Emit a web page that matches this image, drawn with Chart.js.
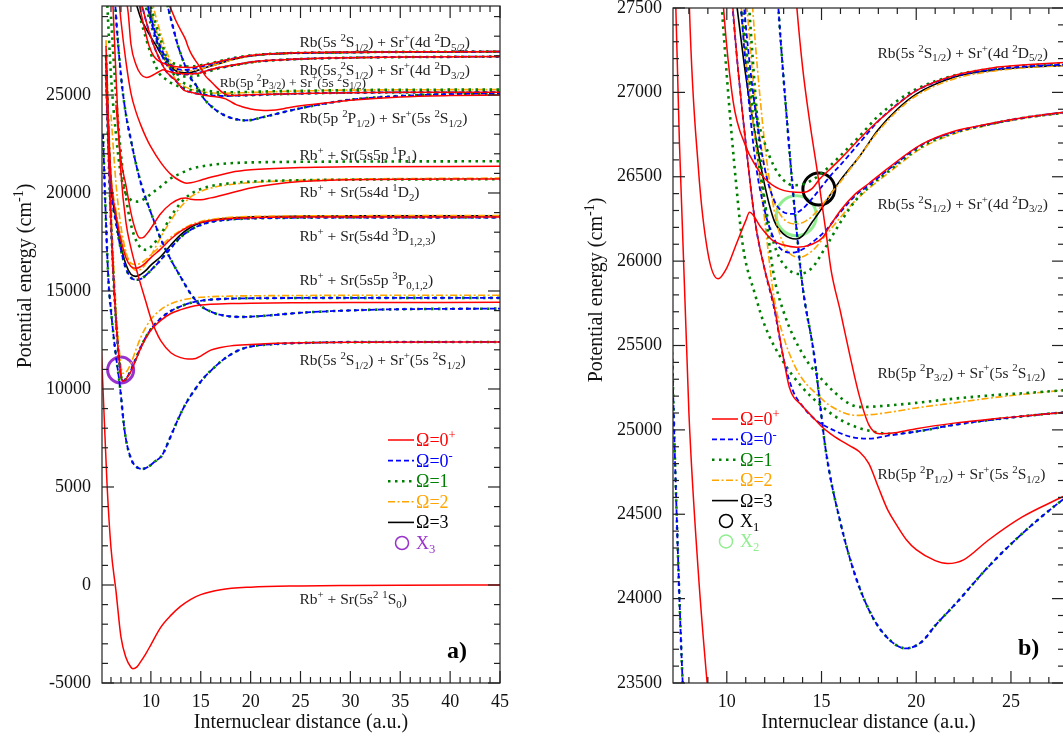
<!DOCTYPE html>
<html>
<head>
<meta charset="utf-8">
<script src="https://cdn.jsdelivr.net/npm/chart.js@4.4.0/dist/chart.umd.min.js"></script>
<style>
  html, body { margin: 0; padding: 0; background: #fff; overflow: hidden; width: 1063px; height: 741px; }
  #panelA { position: absolute; left: 0; top: 0; }
  #panelB { position: absolute; left: 570px; top: 0; }
</style>
</head>
<body>
<canvas id="panelA" width="530" height="741"></canvas>
<canvas id="panelB" width="505" height="741"></canvas>
<script>
// potential curves, r in a.u., V in cm-1
const r_gnd = [5.0, 5.3, 5.6, 6.0, 6.5, 7.0, 7.5, 8.0, 8.2, 8.6, 9.0, 9.5, 10, 11, 12, 13, 14, 15, 17, 20, 25, 30, 35, 45];
const v_gnd = [12500, 8800, 5200, 1900, -300, -2650, -3700, -4200, -4270, -4180, -3900, -3500, -3050, -2150, -1550, -1080, -730, -490, -240, -110, -45, -20, -8, 0];

const r_sDeep = [5.2, 5.5, 5.75, 6.0, 6.25, 6.5, 6.9, 7.4, 8.0, 8.5, 9.1, 9.7, 10.4, 11.1, 12, 12.7, 13.5, 14.4, 15.2, 16.1, 17.7, 19.4, 22.7, 26, 30, 45];
const v_sDeep = [23000, 18500, 15500, 14000, 12750, 11700, 10130, 7750, 6450, 6050, 5920, 6020, 6300, 6600, 7600, 8430, 9250, 9960, 10500, 10980, 11660, 12090, 12300, 12360, 12390, 12400];

const r_sRed = [6.0, 6.5, 7.0, 7.5, 8.0, 8.5, 9.0, 9.5, 10, 10.5, 11, 12, 13, 13.7, 14.5, 15, 16, 17, 18, 20, 22, 25, 30, 45];
const v_sRed = [32000, 26000, 21000, 18500, 17200, 16200, 15300, 14450, 13600, 12950, 12450, 11850, 11600, 11530, 11560, 11680, 11980, 12120, 12200, 12270, 12320, 12360, 12390, 12400];

const r_t1 = [6.0, 6.4, 7.0, 7.5, 8.0, 8.5, 9.0, 9.5, 10, 11, 12, 13, 14, 15, 16, 17, 18, 19, 20, 22, 24, 26, 30, 35, 45];
const v_t1 = [34000, 29850, 26000, 24000, 22700, 21500, 20500, 19700, 19000, 17650, 16600, 15700, 14850, 14250, 13950, 13780, 13700, 13680, 13690, 13760, 13850, 13920, 14010, 14070, 14100];

const r_t2 = [5.5, 6.0, 6.5, 7.0, 7.2, 7.5, 8.0, 8.5, 9.0, 9.5, 10, 11, 12, 13, 14, 15, 16, 18, 20, 25, 30, 45];
const v_t2Red = [26000, 18500, 13500, 10700, 10400, 10500, 10900, 11500, 12100, 12600, 13000, 13500, 13850, 14050, 14200, 14280, 14320, 14360, 14380, 14400, 14410, 14420];
const v_t2Blue = [26000, 18500, 13500, 10700, 10420, 10520, 10950, 11550, 12150, 12650, 13050, 13600, 13980, 14220, 14400, 14500, 14560, 14610, 14630, 14645, 14650, 14650];
const v_t2Orange = [27000, 19500, 14200, 11200, 10800, 10850, 11300, 12000, 12650, 13150, 13550, 14050, 14350, 14520, 14620, 14680, 14710, 14740, 14755, 14770, 14780, 14785];

const r_d3 = [5.5, 5.75, 6.0, 6.5, 7.0, 7.5, 8.0, 8.5, 9.0, 9.5, 10, 11, 12, 13, 14, 15, 16, 18, 20, 25, 30, 45];
const v_d3Black = [27000, 23200, 20500, 18700, 17300, 16350, 15850, 15745, 15850, 16050, 16320, 16760, 17350, 17880, 18250, 18480, 18600, 18730, 18780, 18820, 18830, 18840];
const v_d3Blue = [27000, 23000, 20300, 18500, 17100, 16150, 15680, 15575, 15620, 15800, 16050, 16600, 17200, 17750, 18120, 18370, 18520, 18650, 18700, 18740, 18750, 18750];
const v_d3Red = [27500, 23500, 20800, 18900, 17600, 16700, 16250, 16160, 16250, 16450, 16700, 17150, 17650, 18050, 18330, 18500, 18600, 18700, 18740, 18770, 18775, 18780];
const v_d3Orange = [27800, 23800, 21000, 19100, 17800, 16900, 16420, 16350, 16420, 16600, 16850, 17300, 17750, 18100, 18380, 18550, 18650, 18760, 18800, 18830, 18840, 18850];

const r_d1Red = [6.5, 7.0, 7.5, 8.0, 8.5, 8.9, 9.3, 9.8, 11, 12, 13, 13.5, 14, 15, 16, 18, 20, 22, 25, 30, 45];
const v_d1Red = [24500, 21700, 20400, 19000, 18050, 17700, 17750, 18050, 18950, 19450, 19720, 19750, 19680, 19650, 19750, 20000, 20250, 20420, 20580, 20680, 20720];
const r_d1 = [6.0, 6.5, 7.0, 7.5, 8.0, 8.5, 9.0, 9.5, 10, 11, 12, 13, 14, 15, 16, 18, 20, 25, 30, 45];
const v_d1Orange = [24000, 20500, 18300, 17000, 16300, 16050, 16100, 16400, 16800, 17750, 18600, 19300, 19800, 20080, 20250, 20430, 20530, 20650, 20710, 20760];
const v_d1Green = [29000, 25000, 22000, 19800, 18400, 17600, 17200, 17100, 17250, 17900, 18800, 19500, 19950, 20200, 20350, 20500, 20580, 20650, 20680, 20700];

const r_p1Red = [6.5, 7.0, 7.5, 8.0, 8.5, 9.0, 9.5, 10, 11, 12, 13, 13.6, 14, 15, 16, 18, 20, 25, 30, 45];
const v_p1Red = [31500, 28800, 26700, 25100, 24150, 23450, 22850, 22350, 21550, 20950, 20600, 20500, 20520, 20650, 20800, 21050, 21180, 21300, 21340, 21360];
const r_p1Green = [5.5, 6.0, 6.5, 7.0, 7.5, 8.0, 8.7, 9.5, 10, 11, 12, 13, 14, 15, 16, 18, 20, 25, 45];
const v_p1Green = [31000, 26000, 23000, 20900, 19950, 19650, 19560, 19750, 19950, 20330, 20750, 21000, 21230, 21350, 21430, 21520, 21560, 21590, 21620];

const r_pDeep = [11.0, 11.5, 12, 12.7, 13.2, 13.67, 14.0, 14.6, 15.25, 16, 16.8, 17.7, 18.6, 19.46, 20.3, 21, 22.1, 23.8, 25.6, 27.7, 30, 35, 40, 45];
const v_pDeep = [31000, 29900, 28900, 27540, 26800, 26200, 25850, 25450, 24860, 24450, 24130, 23890, 23755, 23705, 23745, 23840, 23972, 24188, 24386, 24583, 24760, 24950, 25040, 25080];

const r_pSteep = [11.5, 12, 12.5, 13, 13.5, 13.67, 14.0, 14.37, 14.8, 15.25, 15.5, 16, 16.5, 17, 17.5, 18.05, 19, 20, 22, 24, 26, 28, 32, 38, 45];
const v_pSteep = [29900, 29400, 28800, 28300, 27800, 27540, 27150, 26831, 26516, 26160, 25950, 25700, 25440, 25200, 25030, 24977, 24985, 25007, 25040, 25065, 25085, 25105, 25125, 25135, 25140];

const r_pQ = [9.0, 9.5, 10, 10.5, 11, 11.5, 12, 12.44, 13, 13.3, 14, 14.5, 15, 15.5, 16, 16.5, 17, 17.5, 18, 18.5, 19, 19.5, 20, 21, 21.65, 22.5, 23.8, 25.6, 27.7, 30, 35, 40, 45];
const v_pQ = [29800, 28800, 27950, 27250, 26700, 26230, 25950, 25766, 25420, 25253, 25140, 25080, 25020, 24975, 24938, 24905, 24870, 24800, 24660, 24524, 24430, 24346, 24290, 24225, 24208, 24230, 24346, 24484, 24602, 24730, 24900, 24970, 25000];

const r_pBlue = [9.0, 9.5, 10, 10.5, 11, 11.5, 12, 12.5, 13, 13.5, 14, 14.72, 15.6, 16.5, 17.5, 18.6, 20, 22, 24, 26, 28, 32, 38, 45];
const v_pBlue = [29800, 28800, 27950, 27250, 26700, 26230, 25950, 25720, 25420, 25230, 25140, 25056, 25000, 24960, 24948, 24967, 24990, 25030, 25060, 25085, 25105, 25125, 25135, 25140];

const r_pGreen = [9.0, 9.5, 10.0, 10.5, 10.86, 11.5, 12, 13, 14, 15.07, 16, 16.83, 17.7, 18.58, 20, 22, 24, 26, 28, 32, 38, 45];
const v_pGreen = [28800, 27900, 27100, 26450, 26082, 25800, 25620, 25400, 25250, 25135, 25060, 25017, 24990, 24977, 24990, 25030, 25060, 25085, 25105, 25125, 25135, 25140];

const r_zw = [7.0, 7.5, 7.73, 8.0, 8.5, 9.0, 9.54, 10.0, 10.5, 11.0, 11.2, 11.8, 12.44, 13.0, 13.7, 14.5, 15.07, 15.4, 16, 16.8, 17.5, 18.5, 20.3, 22, 23.8, 25.6, 27.7, 30, 35, 45];
const v_zw = [32000, 30000, 29170, 27600, 26550, 26050, 25895, 25960, 26100, 26240, 26289, 26200, 26121, 26095, 26082, 26100, 26141, 26200, 26300, 26400, 26460, 26550, 26693, 26770, 26812, 26850, 26881, 26905, 26935, 26960];

const r_d52Red = [8.5, 9.0, 9.5, 9.8, 10.33, 11.0, 11.5, 12.0, 12.8, 14.0, 14.5, 14.9, 15.4, 15.95, 16.8, 17.5, 18.5, 20, 22, 24, 26, 28, 35, 45];
const v_d52Red = [30500, 29200, 28100, 27540, 26950, 26680, 26570, 26490, 26427, 26407, 26430, 26486, 26540, 26600, 26700, 26780, 26880, 27010, 27100, 27145, 27165, 27178, 27200, 27215];

const r_d52Black = [8.5, 9.0, 9.5, 10, 10.5, 11, 11.5, 12, 12.5, 13, 13.67, 14, 14.5, 15, 15.5, 16, 17, 18, 19, 20, 22, 24, 26, 28, 30, 35, 40, 45];
const v_d52Black = [29700, 28900, 28400, 27950, 27540, 27100, 26750, 26450, 26240, 26160, 26131, 26150, 26230, 26310, 26400, 26480, 26620, 26780, 26900, 26990, 27090, 27130, 27150, 27160, 27170, 27190, 27200, 27210];

const r_d52Orange = [9.5, 10, 10.5, 11, 11.5, 12, 12.5, 13, 13.67, 14.2, 14.8, 15.5, 16, 17, 18, 19, 20, 22, 24, 26, 28, 35, 45];
const v_d52Orange = [30500, 29400, 28400, 27600, 26950, 26560, 26350, 26250, 26220, 26240, 26300, 26400, 26470, 26620, 26770, 26890, 26980, 27080, 27125, 27148, 27158, 27190, 27205];

const r_d52Blue = [9.5, 10, 10.5, 11, 11.5, 12, 12.5, 13, 13.5, 14, 14.5, 15, 15.5, 16, 17, 18, 19, 20, 22, 24, 26, 28, 35, 45];
const v_d52Blue = [30000, 29000, 28100, 27400, 26900, 26550, 26360, 26290, 26280, 26310, 26370, 26440, 26510, 26570, 26700, 26830, 26930, 27010, 27095, 27135, 27155, 27165, 27195, 27210];

const r_d52Green = [9, 9.5, 10, 10.5, 11, 11.5, 12, 12.5, 13, 13.5, 14, 14.5, 15, 15.5, 16, 17, 18, 19, 20, 22, 24, 26, 28, 35, 45];
const v_d52Green = [30500, 29500, 28600, 27800, 27250, 26900, 26700, 26560, 26480, 26450, 26455, 26480, 26520, 26570, 26625, 26740, 26860, 26950, 27020, 27100, 27140, 27160, 27170, 27200, 27215];

const r_d32Blue = [9.5, 10, 10.5, 11, 11.5, 12, 12.5, 13, 13.5, 14, 14.5, 15.2, 16, 16.8, 17.5, 18.5, 20.3, 22, 23.8, 25.6, 27.7, 30, 35, 45];
const v_d32Blue = [29800, 28800, 27900, 27150, 26600, 26300, 26130, 26060, 26050, 26070, 26110, 26180, 26290, 26390, 26450, 26540, 26690, 26765, 26810, 26848, 26880, 26905, 26935, 26960];

const r_d32Orange = [10, 10.5, 11, 11.5, 12, 12.5, 13, 13.84, 14.5, 15.2, 16, 16.8, 17.5, 18.5, 20.3, 22, 23.8, 25.6, 27.7, 30, 35, 45];
const v_d32Orange = [30000, 29000, 28100, 27300, 26700, 26300, 26100, 26023, 26060, 26150, 26260, 26360, 26430, 26520, 26670, 26755, 26805, 26845, 26875, 26900, 26930, 26955];

const r_d32Green = [9.5, 10, 10.5, 11, 11.5, 12, 12.5, 13, 13.84, 14.5, 15.2, 16, 16.8, 17.5, 18.5, 20.3, 22, 23.8, 25.6, 27.7, 30, 35, 45];
const v_d32Green = [30000, 29000, 28100, 27300, 26750, 26350, 26100, 25980, 25924, 25960, 26080, 26230, 26360, 26440, 26530, 26680, 26760, 26810, 26848, 26878, 26903, 26932, 26958];

const r_p32Orange = [9.5, 10, 10.5, 11, 11.38, 11.9, 12.5, 13, 13.5, 14, 14.72, 15.5, 16.83, 18, 20, 22, 24, 26, 27.7, 30, 35, 45];
const v_p32Orange = [30000, 28800, 27900, 27200, 26831, 26338, 25780, 25550, 25400, 25300, 25214, 25140, 25086, 25095, 25130, 25160, 25190, 25215, 25234, 25250, 25265, 25275];

const r_p32Green = [10, 10.5, 11, 11.5, 12, 12.44, 13, 14, 15.07, 16.47, 17.17, 18, 20, 22, 24, 26, 27.7, 30, 35, 45];
const v_p32Green = [29500, 28600, 27800, 27000, 26350, 25944, 25700, 25450, 25293, 25155, 25135, 25140, 25160, 25185, 25205, 25220, 25234, 25250, 25265, 25275];

// crossing markers
const x3_r = [6.97], x3_v = [10970];
const x1_r = [14.86], x1_v = [26427];
const x2_r = [13.67], x2_v = [26269];

// which curve has which Omega
const curves = [
  ['p0', r_gnd, v_gnd],
  ['m0', r_sDeep, v_sDeep], ['o1', r_sDeep, v_sDeep],
  ['p0', r_sRed, v_sRed],
  ['m0', r_t1, v_t1], ['o1', r_t1, v_t1],
  ['p0', r_t2, v_t2Red], ['m0', r_t2, v_t2Blue], ['o1', r_t2, v_t2Blue], ['o2', r_t2, v_t2Orange],
  ['o3', r_d3, v_d3Black], ['m0', r_d3, v_d3Blue], ['o1', r_d3, v_d3Blue], ['p0', r_d3, v_d3Red], ['o2', r_d3, v_d3Orange],
  ['p0', r_d1Red, v_d1Red], ['o2', r_d1, v_d1Orange], ['o1', r_d1, v_d1Green],
  ['p0', r_p1Red, v_p1Red], ['o1', r_p1Green, v_p1Green],
  ['m0', r_pDeep, v_pDeep], ['o1', r_pDeep, v_pDeep],
  ['p0', r_pSteep, v_pSteep], ['p0', r_pQ, v_pQ], ['m0', r_pBlue, v_pBlue], ['o1', r_pGreen, v_pGreen],
  ['p0', r_zw, v_zw], ['p0', r_d52Red, v_d52Red], ['o3', r_d52Black, v_d52Black],
  ['o2', r_d52Orange, v_d52Orange], ['m0', r_d52Blue, v_d52Blue], ['o1', r_d52Green, v_d52Green],
  ['m0', r_d32Blue, v_d32Blue], ['o2', r_d32Orange, v_d32Orange], ['o1', r_d32Green, v_d32Green],
  ['o2', r_p32Orange, v_p32Orange], ['o1', r_p32Green, v_p32Green],
];

const FONT = "'Liberation Serif', 'DejaVu Serif', serif";
const INK = '#111';

const styles = {
  p0: { color: '#ff0000', width: 1.5, dash: [] },
  m0: { color: '#0000ff', width: 1.8, dash: [5, 3] },
  o1: { color: '#008000', width: 2.6, dash: [2.5, 4.5] },
  o2: { color: '#ffa500', width: 1.6, dash: [7, 2.5, 2, 2.5] },
  o3: { color: '#000000', width: 1.6, dash: [] },
};
const drawOrder = ['p0', 'm0', 'o1', 'o2', 'o3'];
const legendText = { p0: 'Ω=0^{+}', m0: 'Ω=0^{-}', o1: 'Ω=1', o2: 'Ω=2', o3: 'Ω=3' };

function lineSet(key, r, v) {
  const s = styles[key];
  return {
    data: r.map((x, i) => ({ x: x, y: v[i] })),
    showLine: true,
    borderColor: s.color,
    borderWidth: s.width,
    borderDash: s.dash,
    pointRadius: 0,
    fill: false,
    cubicInterpolationMode: 'monotone',
  };
}

function ringSet(r, v, color, size) {
  return {
    data: r.map((x, i) => ({ x: x, y: v[i] })),
    showLine: false,
    pointStyle: 'circle',
    pointRadius: size,
    pointBorderWidth: 3,
    pointBorderColor: color,
    pointBackgroundColor: 'rgba(0,0,0,0)',
  };
}

function stepsBetween(min, max, step) {
  const out = [];
  for (let k = Math.ceil(min / step - 1e-9); k * step <= max + 1e-9; k++) out.push(k * step);
  return out;
}

// text with ^{..} superscripts and _{..} subscripts
function drawRich(ctx, str, x, y, size, color, weight) {
  const parts = str.split(/(\^\{[^}]*\}|_\{[^}]*\})/);
  let cx = x;
  ctx.fillStyle = color;
  ctx.textAlign = 'left';
  ctx.textBaseline = 'alphabetic';
  for (const p of parts) {
    if (!p) continue;
    let t = p, fs = size, dy = 0;
    if (p[0] === '^') { t = p.slice(2, -1); fs = size * 0.7; dy = -size * 0.4; }
    else if (p[0] === '_') { t = p.slice(2, -1); fs = size * 0.7; dy = size * 0.22; }
    ctx.font = (weight || 'normal') + ' ' + fs + 'px ' + FONT;
    ctx.fillText(t, cx, y + dy);
    cx += ctx.measureText(t).width;
  }
}

function richWidth(ctx, str, size) {
  let w = 0;
  str.split(/(\^\{[^}]*\}|_\{[^}]*\})/).forEach(p => {
    if (!p) return;
    const sub = p[0] === '^' || p[0] === '_';
    ctx.font = (sub ? size * 0.7 : size) + 'px ' + FONT;
    w += ctx.measureText(sub ? p.slice(2, -1) : p).width;
  });
  return w;
}

function seg(ctx, x1, y1, x2, y2) {
  ctx.beginPath(); ctx.moveTo(x1, y1); ctx.lineTo(x2, y2); ctx.stroke();
}

function panelPlugin(cfg) {
  return {
    id: 'panel' + cfg.tag,
    afterDraw(chart) {
      const ctx = chart.ctx, a = chart.chartArea;
      const xs = chart.scales.x, ys = chart.scales.y;
      ctx.save();
      // frame with inward ticks on all sides
      ctx.strokeStyle = '#222';
      ctx.lineWidth = 1.2;
      ctx.setLineDash([]);
      ctx.strokeRect(a.left, a.top, a.right - a.left, a.bottom - a.top);
      stepsBetween(xs.min, xs.max, cfg.xMinor).forEach(v => {
        const len = Math.abs(v / cfg.xStep - Math.round(v / cfg.xStep)) < 1e-6 ? 12 : 6;
        const px = xs.getPixelForValue(v);
        seg(ctx, px, a.bottom, px, a.bottom - len);
        seg(ctx, px, a.top, px, a.top + len);
      });
      stepsBetween(ys.min, ys.max, cfg.yMinor).forEach(v => {
        const len = Math.abs(v / cfg.yStep - Math.round(v / cfg.yStep)) < 1e-6 ? 12 : 6;
        const py = ys.getPixelForValue(v);
        seg(ctx, a.left, py, a.left + len, py);
        seg(ctx, a.right, py, a.right - len, py);
      });
      // y axis title, rotated
      const yt = 'Potential energy (cm^{-1})';
      ctx.translate(cfg.yTitle[0], cfg.yTitle[1]);
      ctx.rotate(-Math.PI / 2);
      drawRich(ctx, yt, -richWidth(ctx, yt, 20) / 2, 7, 20, INK);
      ctx.setTransform(1, 0, 0, 1, 0, 0);
      // asymptote labels
      cfg.notes.forEach(n => {
        drawRich(ctx, n[0], xs.getPixelForValue(n[1]), ys.getPixelForValue(n[2]) + n[3] * 0.33, n[3], '#222');
      });
      // legend
      const lg = cfg.legend;
      let row = 0;
      drawOrder.forEach(key => {
        const s = styles[key], y = lg.y + row * lg.dy;
        ctx.strokeStyle = s.color; ctx.lineWidth = s.width; ctx.setLineDash(s.dash);
        seg(ctx, lg.x, y, lg.x + 26, y);
        ctx.setLineDash([]);
        drawRich(ctx, legendText[key], lg.x + 28, y + 6, 18, s.color);
        row++;
      });
      lg.marks.forEach(m => {
        const y = lg.y + row * lg.dy;
        ctx.strokeStyle = m[1]; ctx.lineWidth = 1.5;
        ctx.beginPath(); ctx.arc(lg.x + 14, y, 6.5, 0, Math.PI * 2); ctx.stroke();
        drawRich(ctx, m[0], lg.x + 28, y + 6, 18, m[1]);
        row++;
      });
      drawRich(ctx, cfg.tag, cfg.tagX, cfg.tagY, 24, '#000', 'bold');
      ctx.restore();
    }
  };
}

function makeChart(id, cfg) {
  const sets = [];
  drawOrder.forEach(key => {
    curves.filter(c => c[0] === key).forEach(c => sets.push(lineSet(c[0], c[1], c[2])));
  });
  cfg.rings.forEach(g => sets.push(ringSet(g[0], g[1], g[2], g[3])));
  return new Chart(document.getElementById(id), {
    type: 'scatter',
    data: { datasets: sets },
    options: {
      responsive: false,
      animation: false,
      layout: { autoPadding: false, padding: { left: 0, top: cfg.padTop, right: cfg.padRight, bottom: 0 } },
      plugins: { legend: { display: false }, tooltip: { enabled: false } },
      scales: {
        x: {
          type: 'linear', min: cfg.xmin, max: cfg.xmax,
          grid: { display: false, drawTicks: false }, border: { display: false },
          ticks: { padding: 8, color: INK, font: { family: FONT, size: 18 }, maxRotation: 0, autoSkip: false },
          title: { display: true, text: 'Internuclear distance (a.u.)', color: INK, font: { family: FONT, size: 20 }, padding: { top: 0, bottom: 6 } },
          afterBuildTicks: s => { s.ticks = stepsBetween(cfg.xmin, cfg.xmax, cfg.xStep).map(v => ({ value: v })); },
          afterFit: s => { s.height = 58; s.paddingLeft = 0; s.paddingRight = 0; },
        },
        y: {
          type: 'linear', min: cfg.ymin, max: cfg.ymax,
          grid: { display: false, drawTicks: false }, border: { display: false },
          ticks: { padding: 11, color: INK, font: { family: FONT, size: 18 }, autoSkip: false, callback: v => String(v) },
          title: { display: false },
          afterBuildTicks: s => { s.ticks = stepsBetween(cfg.ymin, cfg.ymax, cfg.yStep).map(v => ({ value: v })); },
          afterFit: s => { s.width = cfg.axisW; s.paddingTop = 0; s.paddingBottom = 0; },
        },
      },
    },
    plugins: [panelPlugin(cfg)],
  });
}

makeChart('panelA', {
  tag: 'a)', tagX: 447, tagY: 658,
  xmin: 5.1, xmax: 45, ymin: -5000, ymax: 29540,
  xStep: 5, xMinor: 1, yStep: 5000, yMinor: 1000,
  axisW: 102, padRight: 30, padTop: 6, yTitle: [24, 276],
  notes: [
    ['Rb(5s ^{2}S_{1/2}) + Sr^{+}(4d ^{2}D_{5/2})', 24.9, 27700, 15.5],
    ['Rb(5s ^{2}S_{1/2}) + Sr^{+}(4d ^{2}D_{3/2})', 24.9, 26275, 15.5],
    ['Rb(5p ^{2}P_{3/2}) + Sr^{+}(5s ^{2}S_{1/2})', 16.9, 25660, 13.5],
    ['Rb(5p ^{2}P_{1/2}) + Sr^{+}(5s ^{2}S_{1/2})', 24.9, 23825, 15.5],
    ['Rb^{+} + Sr(5s5p ^{1}P_{1})', 24.9, 21940, 15.5],
    ['Rb^{+} + Sr(5s4d ^{1}D_{2})', 24.9, 20050, 15.5],
    ['Rb^{+} + Sr(5s4d ^{3}D_{1,2,3})', 24.9, 17805, 15.5],
    ['Rb^{+} + Sr(5s5p ^{3}P_{0,1,2})', 24.9, 15560, 15.5],
    ['Rb(5s ^{2}S_{1/2}) + Sr^{+}(5s ^{2}S_{1/2})', 24.9, 11480, 15.5],
    ['Rb^{+} + Sr(5s^{2} ^{1}S_{0})', 24.9, -715, 15.5],
  ],
  legend: { x: 388, y: 440, dy: 20.6, marks: [['X_{3}', '#9932cc']] },
  rings: [[x3_r, x3_v, '#9932cc', 13]],
});

makeChart('panelB', {
  tag: 'b)', tagX: 448, tagY: 655,
  xmin: 7.16, xmax: 27.8, ymin: 23500, ymax: 27500,
  xStep: 5, xMinor: 1, yStep: 500, yMinor: 100,
  axisW: 103, padRight: 11, padTop: 8, yTitle: [25, 290],
  notes: [
    ['Rb(5s ^{2}S_{1/2}) + Sr^{+}(4d ^{2}D_{5/2})', 17.95, 27234, 15.5],
    ['Rb(5s ^{2}S_{1/2}) + Sr^{+}(4d ^{2}D_{3/2})', 17.95, 26340, 15.5],
    ['Rb(5p ^{2}P_{3/2}) + Sr^{+}(5s ^{2}S_{1/2})', 17.95, 25340, 15.5],
    ['Rb(5p ^{2}P_{1/2}) + Sr^{+}(5s ^{2}S_{1/2})', 17.95, 24737, 15.5],
  ],
  legend: { x: 142, y: 419, dy: 20.4, marks: [['X_{1}', '#000000'], ['X_{2}', '#90ee90']] },
  rings: [[x1_r, x1_v, '#000000', 16], [x2_r, x2_v, '#90ee90', 20]],
});
</script>
</body>
</html>
